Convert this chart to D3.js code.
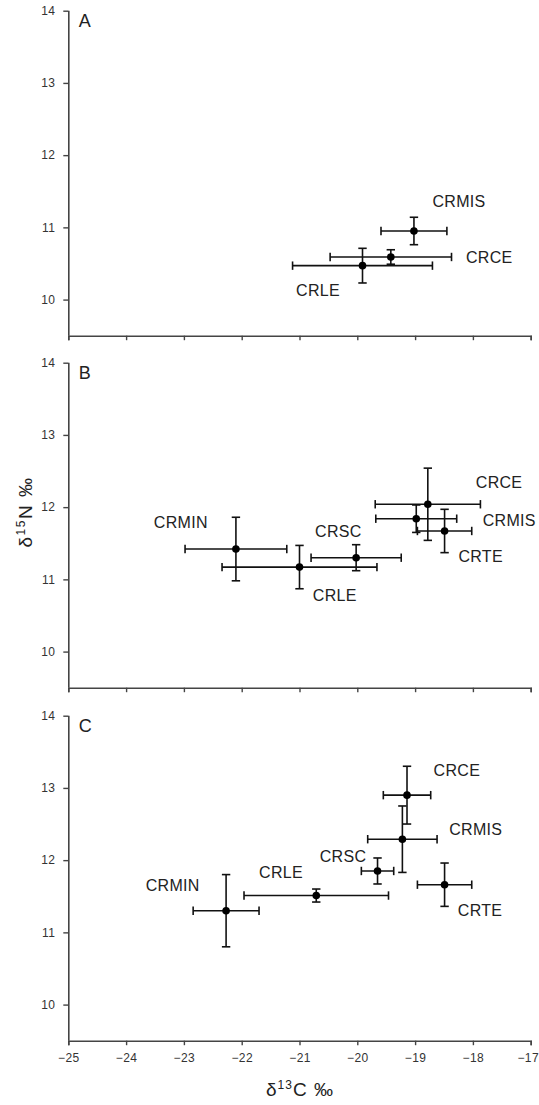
<!DOCTYPE html>
<html>
<head>
<meta charset="utf-8">
<script src="https://cdn.jsdelivr.net/npm/d3@7"></script>
<style>
    body { margin: 0; background: #fff; }
    svg { display: block; font-family: "Liberation Sans", Arial, sans-serif; }
    .tick text { fill: #333; }
</style>
</head>
<body>
<div id="isotope-viz"></div>
<script>
// DATA
const panelNames = ["A", "B", "C"];
const xTicks = [-25, -24, -23, -22, -21, -20, -19, -18, -17];
const yTicks = [10, 11, 12, 13, 14];

// panel A
const aNames = ["CRMIS", "CRCE", "CRLE"];
const aC = [-19.02, -19.42, -19.91];
const aCerr = [0.57, 1.05, 1.21];
const aN = [10.95, 10.59, 10.47];
const aNerr = [0.19, 0.10, 0.24];
const aLabelC = [-18.70, -18.12, -21.06];
const aLabelN = [11.28, 10.51, 10.05];

// panel B
const bNames = ["CRMIN", "CRLE", "CRSC", "CRCE", "CRMIS", "CRTE"];
const bC = [-22.10, -21.00, -20.02, -18.78, -18.98, -18.49];
const bCerr = [0.88, 1.34, 0.78, 0.91, 0.70, 0.47];
const bN = [11.42, 11.17, 11.30, 12.04, 11.84, 11.67];
const bNerr = [0.44, 0.30, 0.18, 0.50, 0.19, 0.30];
const bLabelC = [-23.52, -20.77, -20.73, -17.95, -17.83, -18.25];
const bLabelN = [11.71, 10.70, 11.58, 12.26, 11.74, 11.24];

// panel C
const cNames = ["CRMIN", "CRLE", "CRSC", "CRCE", "CRMIS", "CRTE"];
const cC = [-22.27, -20.71, -19.65, -19.14, -19.22, -18.49];
const cCerr = [0.57, 1.25, 0.28, 0.41, 0.60, 0.47];
const cN = [11.30, 11.51, 11.85, 12.90, 12.29, 11.66];
const cNerr = [0.50, 0.09, 0.18, 0.40, 0.46, 0.30];
const cLabelC = [-23.66, -21.70, -20.65, -18.68, -18.41, -18.26];
const cLabelN = [11.57, 11.75, 11.98, 13.17, 12.35, 11.22];

function rows(names, c, cErr, n, nErr, lc, ln) {
    return names.map(function (name, i) {
        return { name: name, c: c[i], cErr: cErr[i], n: n[i], nErr: nErr[i], lc: lc[i], ln: ln[i] };
    });
}

let panels = [
    rows(aNames, aC, aCerr, aN, aNerr, aLabelC, aLabelN),
    rows(bNames, bC, bCerr, bN, bNerr, bLabelC, bLabelN),
    rows(cNames, cC, cCerr, cN, cNerr, cLabelC, cLabelN)
];

let width = 539,
    height = 1105,
    left = 68.3,
    right = 530.7,
    panelTops = [10.7, 362.7, 715.7],
    panelH = 325,
    cap = 4.2;

let svg = d3.select('#isotope-viz').append('svg')
    .attr('width', width)
    .attr('height', height);

let x = d3.scaleLinear()
    .domain([-25, -17])
    .range([left, right]);

panels.forEach(function (data, p) {
    let top = panelTops[p];
    let y = d3.scaleLinear()
        .domain([9.5, 14])
        .range([top + panelH, top]);

    let g = svg.append('g');

    // AXES
    let xAxis = d3.axisBottom(x).tickValues(xTicks).tickSize(4.5).tickPadding(8)
        .tickFormat(p === 2 ? d3.format("d") : "");
    let yAxis = d3.axisLeft(y).tickValues(yTicks).tickSize(5).tickPadding(8)
        .tickFormat(d3.format("d"));

    let gx = g.append('g')
        .attr('transform', 'translate(0,' + (top + panelH) + ')')
        .call(xAxis);
    let gy = g.append('g')
        .attr('transform', 'translate(' + left + ',0)')
        .call(yAxis);

    [gx, gy].forEach(function (ax) {
        ax.select('.domain').attr('stroke', '#444').attr('stroke-width', 1.6);
        ax.selectAll('.tick line').attr('stroke', '#444').attr('stroke-width', 1.4);
        ax.selectAll('.tick text')
            .style('font-size', '12px')
            .style('letter-spacing', '0.4px')
            .style('font-family', '"Liberation Sans", Arial, sans-serif');
    });
    gy.select('.domain').attr('d', 'M0.5,' + y(14) + 'V' + y(9.5));
    // keep the last x label inside the page
    gx.selectAll('.tick text').filter(function (d) { return d === -17 })
        .attr('dx', -3);

    // panel letter
    g.append('text')
        .attr('x', left + 10.5)
        .attr('y', top + 16.5)
        .style('font-size', '18px')
        .attr('fill', '#222')
        .text(panelNames[p]);

    // ERROR BARS
    let bars = g.selectAll('.bar')
        .data(data)
        .enter().append('g').classed('bar', true)
        .attr('stroke', '#111')
        .attr('stroke-width', 1.6);

    bars.append('line')
        .attr('x1', function (d) { return x(d.c - d.cErr) })
        .attr('x2', function (d) { return x(d.c + d.cErr) })
        .attr('y1', function (d) { return y(d.n) })
        .attr('y2', function (d) { return y(d.n) });
    bars.append('line')
        .attr('x1', function (d) { return x(d.c) })
        .attr('x2', function (d) { return x(d.c) })
        .attr('y1', function (d) { return y(d.n - d.nErr) })
        .attr('y2', function (d) { return y(d.n + d.nErr) });

    [-1, 1].forEach(function (s) {
        bars.append('line')
            .attr('x1', function (d) { return x(d.c + s * d.cErr) })
            .attr('x2', function (d) { return x(d.c + s * d.cErr) })
            .attr('y1', function (d) { return y(d.n) - cap })
            .attr('y2', function (d) { return y(d.n) + cap });
        bars.append('line')
            .attr('x1', function (d) { return x(d.c) - cap })
            .attr('x2', function (d) { return x(d.c) + cap })
            .attr('y1', function (d) { return y(d.n + s * d.nErr) })
            .attr('y2', function (d) { return y(d.n + s * d.nErr) });
    });

    // points
    g.selectAll('.pt')
        .data(data)
        .enter().append('circle').classed('pt', true)
        .attr('cx', function (d) { return x(d.c) })
        .attr('cy', function (d) { return y(d.n) })
        .attr('r', 3.8)
        .attr('fill', '#000');

    // labels
    g.selectAll('.lbl')
        .data(data)
        .enter().append('text').classed('lbl', true)
        .attr('x', function (d) { return x(d.lc) })
        .attr('y', function (d) { return y(d.ln) })
        .style('font-size', '16px')
        .style('letter-spacing', '0.3px')
        .attr('fill', '#222')
        .text(function (d) { return d.name });
});

// axis titles
let yTitle = svg.append('text')
    .attr('transform', 'translate(32,' + 512 + ') rotate(-90)')
    .attr('text-anchor', 'middle')
    .style('font-size', '19px')
    .style('letter-spacing', '1.5px')
    .attr('fill', '#222');
yTitle.append('tspan').text('δ');
yTitle.append('tspan').attr('dy', -7).style('font-size', '12px').text('15');
yTitle.append('tspan').attr('dy', 7).text('N ‰');

let xTitle = svg.append('text')
    .attr('x', 300)
    .attr('y', 1096)
    .attr('text-anchor', 'middle')
    .style('font-size', '19px')
    .style('letter-spacing', '1px')
    .attr('fill', '#222');
xTitle.append('tspan').text('δ');
xTitle.append('tspan').attr('dy', -7).style('font-size', '12px').text('13');
xTitle.append('tspan').attr('dy', 7).text('C ‰');
</script>
</body>
</html>
